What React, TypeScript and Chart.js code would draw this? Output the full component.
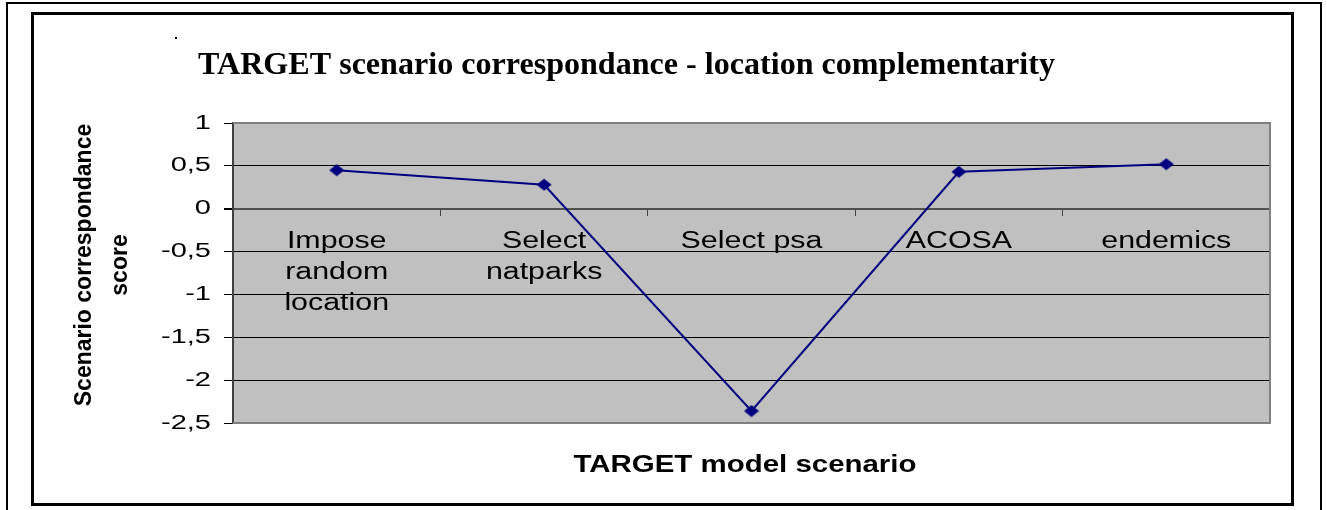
import React, { useEffect, useRef } from "react";
import { Chart, registerables } from "chart.js";

Chart.register(...registerables);

// ---- data ----
const categories: (string | string[])[] = [
  ["Impose", "random", "location"],
  ["Select", "natparks"],
  "Select psa",
  "ACOSA",
  "endemics",
];
const scores = [0.45, 0.28, -2.36, 0.43, 0.52];
const yMin = -2.5;
const yMax = 1;
const yStep = 0.5;

const chartTitle = "TARGET scenario correspondance - location complementarity";
const yTitleLines = ["Scenario correspondance", "score"];
const xTitle = "TARGET model scenario";

// horizontal glyph stretch for tick labels (per scale)
const labelStretch: Record<string, number> = { x: 1.32, y: 1.45 };

const stretchLabelsPlugin = {
  id: "stretchLabels",
  beforeDraw(chart: any) {
    for (const id of Object.keys(labelStretch)) {
      const sx = labelStretch[id];
      const scale: any = chart.scales[id];
      if (!scale || scale.__stretched) continue;
      const orig = scale.drawLabels.bind(scale);
      scale.drawLabels = (area: any) => {
        const ctx: any = chart.ctx;
        const proto = CanvasRenderingContext2D.prototype.fillText;
        ctx.fillText = function (text: string, x: number, y: number, maxWidth?: number) {
          this.save();
          this.translate(x, y);
          this.scale(sx, 1);
          if (maxWidth === undefined || maxWidth === null) proto.call(this, text, 0, 0);
          else proto.call(this, text, 0, 0, maxWidth / sx);
          this.restore();
        };
        try {
          orig(area);
        } finally {
          delete ctx.fillText;
        }
      };
      scale.__stretched = true;
    }
  },
};

const framePlugin = {
  id: "frame",
  beforeDraw(chart: any) {
    const { ctx, chartArea: a, width, height } = chart;
    ctx.save();
    ctx.fillStyle = "#ffffff";
    ctx.fillRect(0, 0, width, height);
    // outer frame (bottom edge outside the picture)
    ctx.strokeStyle = "#000";
    ctx.lineWidth = 2;
    ctx.beginPath();
    ctx.moveTo(7, height + 5);
    ctx.lineTo(7, 3);
    ctx.lineTo(1321, 3);
    ctx.lineTo(1321, height + 5);
    ctx.stroke();
    // inner frame
    ctx.lineWidth = 3;
    ctx.strokeRect(32.5, 13.5, 1260, 491);
    // small speck
    ctx.fillStyle = "#000";
    ctx.fillRect(175, 37, 2, 2);
    // plot background
    ctx.fillStyle = "#c0c0c0";
    ctx.fillRect(a.left, a.top, a.right - a.left, a.bottom - a.top);
    ctx.restore();
  },
  beforeDatasetsDraw(chart: any) {
    const { ctx, chartArea: a } = chart;
    ctx.save();
    ctx.strokeStyle = "#808080";
    ctx.lineWidth = 2;
    ctx.beginPath();
    ctx.moveTo(a.left, a.top);
    ctx.lineTo(a.right, a.top);
    ctx.lineTo(a.right, a.bottom);
    ctx.lineTo(a.left, a.bottom);
    ctx.stroke();
    ctx.restore();
  },
  afterDraw(chart: any) {
    const { ctx } = chart;
    ctx.save();
    ctx.fillStyle = "#000";
    // main title
    ctx.font = 'bold 32px "Liberation Serif", "Times New Roman", serif';
    ctx.textAlign = "left";
    ctx.textBaseline = "alphabetic";
    const tw = ctx.measureText(chartTitle).width;
    const tsx = 857 / tw;
    ctx.save();
    ctx.translate(198, 74);
    ctx.scale(tsx, 1);
    ctx.fillText(chartTitle, 0, 0);
    ctx.restore();

    // y axis title (two lines, rotated)
    ctx.font = 'bold 23px "Liberation Sans", Arial, sans-serif';
    ctx.textAlign = "center";
    ctx.textBaseline = "middle";
    const yCenters = [85, 121];
    yTitleLines.forEach((line, i) => {
      ctx.save();
      ctx.translate(yCenters[i], 265);
      ctx.rotate(-Math.PI / 2);
      ctx.fillText(line, 0, 0);
      ctx.restore();
    });

    // x axis title
    ctx.textBaseline = "alphabetic";
    ctx.save();
    ctx.translate(745, 472);
    ctx.scale(1.28, 1);
    ctx.fillText(xTitle, 0, 0);
    ctx.restore();
    ctx.restore();
  },
};

export default function App() {
  const canvasRef = useRef<HTMLCanvasElement | null>(null);

  useEffect(() => {
    const canvas = canvasRef.current;
    if (!canvas) return;

    const pt = document.createElement("canvas");
    pt.width = 16;
    pt.height = 13;
    const pc = pt.getContext("2d")!;
    pc.fillStyle = "#000080";
    pc.beginPath();
    pc.moveTo(8, 0.5);
    pc.lineTo(15.5, 6.5);
    pc.lineTo(8, 12.5);
    pc.lineTo(0.5, 6.5);
    pc.closePath();
    pc.fill();

    const chart = new Chart(canvas, {
      type: "line",
      data: {
        labels: categories as any,
        datasets: [
          {
            data: scores,
            borderColor: "#000080",
            borderWidth: 2,
            backgroundColor: "#000080",
            pointStyle: pt as any,
            pointRadius: 7,
            pointHoverRadius: 7,
            tension: 0,
            fill: false,
          },
        ],
      },
      options: {
        animation: false,
        responsive: false,
        devicePixelRatio: 1,
        events: [],
        layout: { padding: { left: 0, top: 123, right: 57, bottom: 87 } },
        plugins: {
          legend: { display: false },
          title: { display: false },
          tooltip: { enabled: false },
        },
        scales: {
          x: {
            type: "category",
            position: { y: 0 } as any,
            offset: true,
            grid: {
              offset: true,
              drawOnChartArea: false,
              drawTicks: true,
              tickLength: 6,
              color: "#404040",
              lineWidth: 1,
            },
            border: { display: true, color: "#505050", width: 2 },
            ticks: {
              color: "#000",
              font: { family: '"Liberation Sans", Arial, sans-serif', size: 23, lineHeight: 1.35 },
              padding: 11,
              maxRotation: 0,
              minRotation: 0,
              autoSkip: false,
            },
          },
          y: {
            type: "linear",
            position: "left",
            min: yMin,
            max: yMax,
            afterFit: (scale: any) => {
              scale.width = 233;
            },
            grid: {
              color: (c: any) =>
                c.tick && (c.tick.value === yMax || c.tick.value === yMin)
                  ? "#808080"
                  : c.tick && c.tick.value === 0
                  ? "#505050"
                  : "#000000",
              lineWidth: (c: any) => (c.tick && c.tick.value === 0 ? 2 : 1),
              tickColor: "#000000",
              tickLength: 9,
              drawTicks: true,
            },
            border: { display: true, color: "#404040", width: 2 },
            ticks: {
              stepSize: yStep,
              color: "#000",
              padding: 13,
              font: { family: '"Liberation Sans", Arial, sans-serif', size: 20 },
              callback: (v: any) => String(v).replace(".", ","),
            },
          },
        },
      },
      plugins: [stretchLabelsPlugin, framePlugin],
    });

    return () => chart.destroy();
  }, []);

  return (
    <div style={{ position: "absolute", left: 0, top: 0, width: 1327, height: 510 }}>
      <canvas ref={canvasRef} width={1327} height={510} style={{ width: 1327, height: 510, display: "block" }} />
    </div>
  );
}
